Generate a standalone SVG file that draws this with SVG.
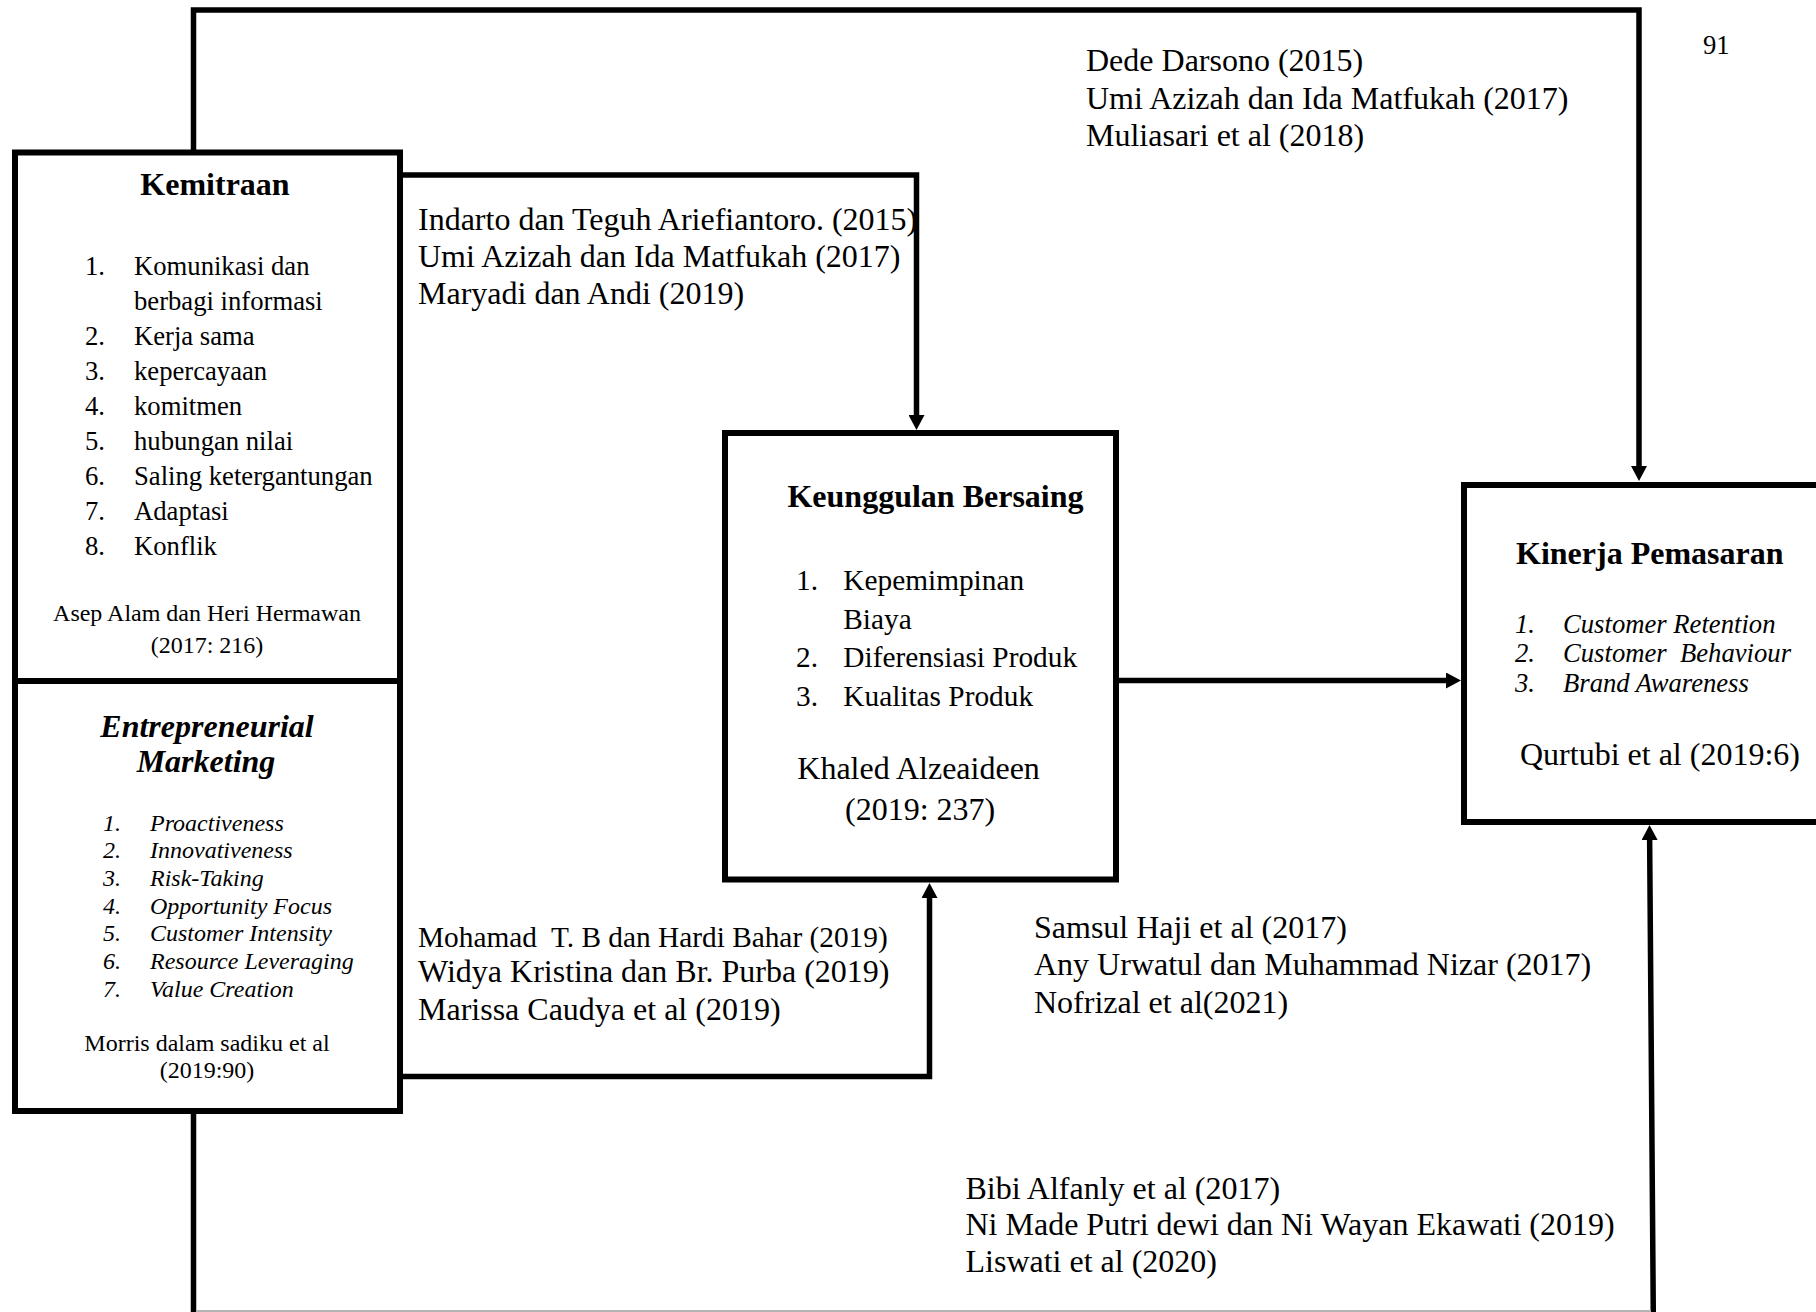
<svg xmlns="http://www.w3.org/2000/svg" width="1816" height="1312" viewBox="0 0 1816 1312">
  <style>
    text { font-family: "Liberation Serif", "Times New Roman", serif; fill: #000; }
    .title { font-size: 32px; font-weight: bold; }
    .item { font-size: 26.67px; }
    .item22 { font-size: 29.33px; }
    .small { font-size: 24px; }
    .ref { font-size: 32px; }
    .ref22 { font-size: 29.33px; }
    .it { font-style: italic; }
    .mid { text-anchor: middle; }
    .box { fill: none; stroke: #000; stroke-width: 6; }
    .conn { fill: none; stroke: #000; stroke-width: 5.5; stroke-linejoin: miter; }
  </style>
  <defs>
    <marker id="arrow" markerUnits="userSpaceOnUse" viewBox="0 0 15 16" markerWidth="15" markerHeight="16" refX="5" refY="8" orient="auto">
      <path d="M0,0 L15,8 L0,16 Z" fill="#000"/>
    </marker>
  </defs>

  <rect x="0" y="0" width="1816" height="1312" fill="#fff"/>

  <!-- page number -->
  <text class="item" x="1703" y="54">91</text>

  <!-- connectors -->
  <g id="connectors">
    <path class="conn" d="M193.5,152 V10 H1639 V471" marker-end="url(#arrow)"/>
    <path class="conn" d="M400,175 H916.5 V420" marker-end="url(#arrow)"/>
    <path class="conn" d="M400,1076.5 H929.5 V893" marker-end="url(#arrow)"/>
    <path class="conn" d="M1118,680.5 H1451" marker-end="url(#arrow)"/>
    <path class="conn" d="M193.5,1111 V1340 H1653.5 L1649.6,835" marker-end="url(#arrow)"/>
    <line x1="196" y1="1311" x2="1651" y2="1311" stroke="#b4b4b4" stroke-width="2"/>
  </g>

  <!-- path citations -->
  <g id="refs-kemitraan-kinerja">
    <text class="ref" x="1086" y="71">Dede Darsono (2015)</text>
    <text class="ref" x="1086" y="108.5">Umi Azizah dan Ida Matfukah (2017)</text>
    <text class="ref" x="1086" y="146">Muliasari et al (2018)</text>
  </g>
  <g id="refs-kemitraan-keunggulan">
    <text class="ref" x="418" y="230">Indarto dan Teguh Ariefiantoro. (2015)</text>
    <text class="ref" x="418" y="267">Umi Azizah dan Ida Matfukah (2017)</text>
    <text class="ref" x="418" y="303.5">Maryadi dan Andi (2019)</text>
  </g>
  <g id="refs-em-keunggulan">
    <text class="ref22" x="418" y="947" xml:space="preserve">Mohamad  T. B dan Hardi Bahar (2019)</text>
    <text class="ref" x="418" y="982">Widya Kristina dan Br. Purba (2019)</text>
    <text class="ref" x="418" y="1019.5">Marissa Caudya et al (2019)</text>
  </g>
  <g id="refs-keunggulan-kinerja">
    <text class="ref" x="1034" y="938">Samsul Haji et al (2017)</text>
    <text class="ref" x="1034" y="975">Any Urwatul dan Muhammad Nizar (2017)</text>
    <text class="ref" x="1034" y="1012.5">Nofrizal et al(2021)</text>
  </g>
  <g id="refs-em-kinerja">
    <text class="ref" x="965.5" y="1198.5">Bibi Alfanly et al (2017)</text>
    <text class="ref" x="965.5" y="1235">Ni Made Putri dewi dan Ni Wayan Ekawati (2019)</text>
    <text class="ref" x="965.5" y="1272">Liswati et al (2020)</text>
  </g>

  <!-- Kemitraan -->
  <g id="kemitraan">
    <rect class="box" x="15" y="152.5" width="385" height="528.5" fill="#fff"/>
    <text class="title mid" x="215" y="195">Kemitraan</text>
    <g class="item">
      <text x="85" y="274.5">1.</text><text x="134" y="274.5">Komunikasi dan</text>
      <text x="134" y="309.6">berbagi informasi</text>
      <text x="85" y="344.7">2.</text><text x="134" y="344.7">Kerja sama</text>
      <text x="85" y="379.8">3.</text><text x="134" y="379.8">kepercayaan</text>
      <text x="85" y="414.9">4.</text><text x="134" y="414.9">komitmen</text>
      <text x="85" y="450">5.</text><text x="134" y="450">hubungan nilai</text>
      <text x="85" y="485.1">6.</text><text x="134" y="485.1">Saling ketergantungan</text>
      <text x="85" y="520.2">7.</text><text x="134" y="520.2">Adaptasi</text>
      <text x="85" y="555.3">8.</text><text x="134" y="555.3">Konflik</text>
    </g>
    <text class="small mid" x="207" y="621">Asep Alam dan Heri Hermawan</text>
    <text class="small mid" x="207" y="653">(2017: 216)</text>
  </g>

  <!-- Entrepreneurial Marketing -->
  <g id="entrepreneurial-marketing">
    <rect class="box" x="15" y="681" width="385" height="430" fill="#fff"/>
    <text class="title it mid" x="207" y="737">Entrepreneurial</text>
    <text class="title it mid" x="206" y="772">Marketing</text>
    <g class="small it">
      <text x="103" y="830.5">1.</text><text x="150" y="830.5">Proactiveness</text>
      <text x="103" y="858.2">2.</text><text x="150" y="858.2">Innovativeness</text>
      <text x="103" y="885.9">3.</text><text x="150" y="885.9">Risk-Taking</text>
      <text x="103" y="913.6">4.</text><text x="150" y="913.6">Opportunity Focus</text>
      <text x="103" y="941.3">5.</text><text x="150" y="941.3">Customer Intensity</text>
      <text x="103" y="969">6.</text><text x="150" y="969">Resource Leveraging</text>
      <text x="103" y="996.7">7.</text><text x="150" y="996.7">Value Creation</text>
    </g>
    <text class="small mid" x="207" y="1051">Morris dalam sadiku et al</text>
    <text class="small mid" x="207" y="1078">(2019:90)</text>
  </g>

  <!-- Keunggulan Bersaing -->
  <g id="keunggulan-bersaing">
    <rect class="box" x="725" y="433" width="391" height="446.5" fill="#fff"/>
    <text class="title mid" x="935.5" y="507">Keunggulan Bersaing</text>
    <g class="item22">
      <text x="796" y="590">1.</text><text x="843.3" y="590">Kepemimpinan</text>
      <text x="843.3" y="628.5">Biaya</text>
      <text x="796" y="667.3">2.</text><text x="843.3" y="667.3">Diferensiasi Produk</text>
      <text x="796" y="706">3.</text><text x="843.3" y="706">Kualitas Produk</text>
    </g>
    <text class="ref" x="797.3" y="779.3">Khaled Alzeaideen</text>
    <text class="ref" x="845" y="820">(2019: 237)</text>
  </g>

  <!-- Kinerja Pemasaran -->
  <g id="kinerja-pemasaran">
    <rect class="box" x="1464" y="485" width="420" height="337" fill="#fff"/>
    <text class="title" x="1516" y="563.5">Kinerja Pemasaran</text>
    <g class="item it">
      <text x="1515" y="632.7">1.</text><text x="1563" y="632.7">Customer Retention</text>
      <text x="1515" y="662">2.</text><text x="1563" y="662" xml:space="preserve">Customer  Behaviour</text>
      <text x="1515" y="692">3.</text><text x="1563" y="692">Brand Awareness</text>
    </g>
    <text class="ref" x="1520" y="765">Qurtubi et al (2019:6)</text>
  </g>
</svg>
